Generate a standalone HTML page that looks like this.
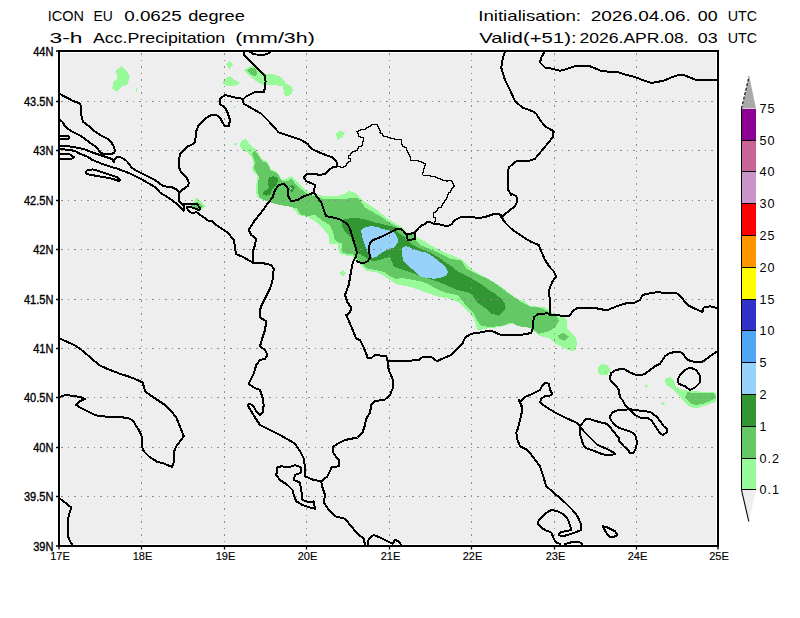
<!DOCTYPE html>
<html><head><meta charset="utf-8"><title>ICON EU 0.0625 degree - 3-h Acc.Precipitation</title>
<style>
html,body{margin:0;padding:0;background:#fff;}
body{width:800px;height:618px;overflow:hidden;}
svg{display:block;}
text{font-family:"Liberation Sans",Arial,sans-serif;fill:#000;}
</style></head><body>
<svg width="800" height="618" viewBox="0 0 800 618" shape-rendering="auto">
<defs><clipPath id="mc"><rect x="61" y="53" width="655" height="491"/></clipPath></defs>

<rect x="61" y="53" width="655" height="491" fill="#eeeeee"/>
<g clip-path="url(#mc)" shape-rendering="crispEdges">
<polygon points="242,140 245,139 248,142 251,146 256,149 260,156 263,160 267,161 269.6,166 271,170 276,171 279,175 282.4,180 285,178.75 291.25,176.25 296.25,181.25 302.5,187.5 308.75,192.5 317.5,195 327.5,196.25 336.25,196.25 343.75,194.4 348.75,191.25 353.75,191.9 357.5,195 362.5,200 367.5,203.75 371.25,206.25 377,210 383,215 390,220 400,226 410,235 418,238 424,241 430,245 438,249 446,253 454,256 462,260 470,268 472.25,270 482.75,276 491.5,280.5 500.25,285.75 509,292.75 517.75,298.9 524.75,301.5 530,305.9 538.75,306.75 545.75,307.6 551,312 558,314.6 565,317.25 567.6,322.5 566.75,327.75 570.25,332 575.5,337.4 577.25,343.5 575.5,349.6 572,351.4 565,348.75 558,345.25 552.75,341.75 549.25,338.25 538.75,335.6 535.25,332 530,327.75 521.25,326.9 512.5,323.4 503.75,326 495,327.75 486.25,328.6 477.5,330.4 475.75,324.25 474,319 468.75,312 463.5,306.75 460,303 450,299 440,297 430,294 422,291 410,287 400,285 396,284 390,280 384,276 376,272 366,271 362,267 358,261 354,259 353,256 346,255.5 340,254 338.5,250 338,244 333,244.5 329,243 329,236.25 321.25,226.25 315,221.25 308.75,217.5 298.75,215 292.5,207.5 280,203.75 276,202 270,201 263,200 258,198 256,192 256.4,184 257,178 258,175.6 254,172.4 251.6,169 253.6,164.4 252,158 248,152.4 243.6,151 241,149 240,145 241,141" fill="#98fa98"/>
<polygon points="252,153 255,150 258,155 262,161 267,163 270,168 271,171 276,172.5 279,176 282,181 287.5,181.25 291.25,178.75 297.5,186.25 305,192.5 312.5,195.6 322.5,198.75 333.75,199.4 345,198.75 352.5,198.1 357.5,197.5 361.25,202.5 365,207.5 371.25,211.25 380,216 390,223 400,228 416,240 420,245 425,246.9 432.5,250 442.5,255 450,258.75 461.25,260.6 463.1,263.1 466.25,268.75 471.25,271.25 480,275.6 487.5,278.75 493.75,282.5 500,286.9 507.5,292.5 515,298.1 521.25,302 530,306.75 540.5,307.6 549.25,312 556.25,315.5 558.9,320.75 556.25,326 549.25,331.25 538.75,333.9 535.25,331.25 530,327.75 517.75,326 510.75,322.5 502,326 489.75,326.9 481,326 477.5,320.75 474,313.75 467,306.75 460,298 457.5,295 445,292.5 436.25,288.75 427.5,283.75 420,281.25 414,280 402,278 396,279 390,276 384,272 376,270 368,268.5 364,266 358,260 353,254.5 343,253 342,250 342,243.5 337,242 334,238 333.75,235 332.5,231.25 330,225 321.25,220 315,214.4 308.75,216.25 300,214.4 297.5,208.75 287.5,206.25 280,205 272,203 266,201 260,198 258,192 258,184 259,177 256,172 254,168 255,162 253,157" fill="#64c864"/>
<polygon points="268.75,177.5 272.5,176.25 276.9,176.9 278.1,180 276.9,185 274.4,187.5 271.9,190 270,195 266.25,195.6 263.1,194.4 263.75,191.25 267.5,189.4 268.75,187.5 268.1,182.5" fill="#329632"/>
<polygon points="289.4,187.5 291.25,184.4 295,187.5 291.9,192.5 288.75,189.4" fill="#329632"/>
<polygon points="341.25,220 347.5,218.75 355,217.5 367.5,220 375,222.5 382,224 390,226 396,228 397,231.5 400,234 404,236.5 406.5,240 410,242 412.5,245 420,248.75 430,252.5 438.75,257.5 445,261.9 451.25,266.25 457.5,271.25 463.75,274.4 470,277.5 476.25,281.25 482.5,285 488.75,290 495,293.75 501.25,298.75 505,303.75 505.6,307.5 503.75,311.25 498.5,315.5 491.5,313.75 484.5,307.6 477.5,302.5 472.5,295 467.5,292.5 457.5,290 448.75,286.25 441.25,283.1 432.5,280 425,277.5 420,276.25 410,272 400,269 394,267 392,262 390,257 385,258 380,260 374,261 368,260 365,257 360,254 357,254 355,249 353,243 351,238 348,235 345,232 342,226" fill="#329632"/>
<polygon points="361,230 365,227.5 371,226 377.5,227 382.5,229 387.5,230 391,231 395,233 397.5,237.5 397.5,242.5 395,247 390,249 385,251 380,254 376,257 372,258 368,253 364,243 362,236" fill="#96d2fa"/>
<polygon points="402,248 406,246 416,250 420,251.25 426.25,252.5 432.5,256.25 438.75,261.25 445,266.25 448.1,272.5 446.25,275.6 441.25,277.5 435,278.75 427.5,278.1 420,276.25 416,272 408,266 403,260 402,254" fill="#96d2fa"/>
<polygon points="290,186.5 292,188 290.5,189.5" fill="#96d2fa"/>
<polygon points="406.5,234.5 406.75,238 408,240 411,240.25 412.5,239 415,239 415.25,236 414.5,233" fill="#64c864"/>
<polygon points="121.5,65.9 128,72.5 129.8,76.8 128.75,80.5 127.7,84.1 124.7,85.9 121.8,86.3 116.4,91.75 112.4,88.5 113.1,82.3 116.7,79.4 116.4,70.3 118.2,68.8" fill="#98fa98"/>
<polygon points="136,88 137,88 137,92 136,92" fill="#98fa98"/>
<polygon points="229.4,61.25 233.1,64.75 229.4,68.75 226,64.4" fill="#98fa98"/>
<polygon points="223.1,81.25 226.25,78.1 230,76.25 235,80 240,82.5 237.5,85 230,86.25 223.75,85" fill="#98fa98"/>
<polygon points="244.4,70 250,66.25 255,65.6 258.75,68.75 263.75,72.5 266.25,73.75 273.75,74.4 280,76.25 283.75,80 286.25,83.75 291.25,86.25 293.1,90 291.25,94.4 286.9,96.25 284.4,95 283.75,91.25 282.5,86.25 275,85 266.25,85 261.25,84.4 256.25,81.25 251.25,77.5 246.9,73.75 244.4,70.6" fill="#98fa98"/>
<polygon points="246.9,70 251.9,67.5 255,68.1 257.5,72.5 256.25,75.6 253.75,76.25 250,73.75" fill="#64c864"/>
<polygon points="233.5,106.5 234.5,105.5 235.5,106.5 234.5,108" fill="#98fa98"/>
<polygon points="234,143 237,143 237,145 234,145" fill="#98fa98"/>
<polygon points="336,133.75 340,130.5 344.5,132.5 342.5,137.5 337.5,139.5" fill="#98fa98"/>
<polygon points="342.5,269.5 346,273.5 343,276.5 339.5,273.5" fill="#98fa98"/>
<polygon points="193.5,202 197,197.5 206,206.25 200,211 193,210 190,205.5" fill="#98fa98"/>
<polygon points="197,201.5 203,206.25 200,210 193,208.5 191,205.75" fill="#64c864"/>
<polygon points="558,335.6 563.25,333 568.5,336.5 565,340.9 559.75,339.1" fill="#64c864"/>
<polygon points="597.5,367.5 601.25,363.75 607.5,365 610.5,370 607.5,375 601.25,375.5 598,372.5" fill="#98fa98"/>
<polygon points="604,371.5 606,371.5 605,373.5" fill="#64c864"/>
<polygon points="664.5,379 670.5,376.75 674.2,380.5 675,385.75 681,389.5 690,391 705,391.75 714,392.5 717,394 717,401.5 708,404.5 699,407.5 693,408.2 688.5,406 684,401.5 679.5,396.2 673.5,389.5 667.5,385.75 664.5,382" fill="#98fa98"/>
<polygon points="687,391.75 693,393.2 705,392.5 714,393.2 716.2,397.7 711,400.7 703.5,403.7 696,405.2 690,403 686.2,398.5 686.2,394.7" fill="#64c864"/>
<polygon points="644,384.5 648,385 646,388.5" fill="#98fa98"/>
<polygon points="661,403.5 663,401.5 665,403.5 663,405.5" fill="#98fa98"/>
</g>
<path d="M141.5 53V544 M224.5 53V544 M306.5 53V544 M389.5 53V544 M471.5 53V544 M554.5 53V544 M636.5 53V544 M61 101.5H716 M61 150.5H716 M61 200.5H716 M61 249.5H716 M61 299.5H716 M61 348.5H716 M61 397.5H716 M61 447.5H716 M61 496.5H716" stroke="#8c8c8c" stroke-width="1" stroke-dasharray="1.6 4.9" fill="none" shape-rendering="crispEdges"/>
<g fill="none" stroke="#000" stroke-linejoin="round" stroke-linecap="round" clip-path="url(#mc2)" shape-rendering="crispEdges">
<polyline points="60,94 67.5,98.1 73.75,101.25 79.4,103.1 80.6,105 80.6,108.75 81.25,115 83.1,121.9 87.5,125 93.75,130.6 100,135 107.5,138.75 110.6,141.25 113.75,146.25 115,151.25 113.75,153.1 110,154.4 105,154.4 101.25,153.1 98.75,151.25 98.1,148.75 95,146.25 88.75,141.9 81.25,136.25 73.75,132.5 68.75,129.4 65,126.25 63.1,122.5 60,120" stroke-width="2"/>
<polyline points="60,135.5 68,135.8 69.5,137 68.5,139 60,139" stroke-width="2"/>
<polyline points="60,146 70,146.5 76,147.5 81,148.5 85,149.5 91,152 97,154 103,156 109,158 113,159.5 113.75,162.5 115,158.75 117.5,156.9 121.25,157.5 126.25,160.6 130,165 131.25,167.5 136.25,170.6 142.5,173.75 148.75,176.9 155,180 160,183.75 163.75,186.25 168.75,186.9 172.5,187.5 176.25,189.4 179.4,192.5" stroke-width="2"/>
<polyline points="60,149 70,150 75,151 80,153.75 88,157 92.5,160 105,165 117.5,168.75 130,173.5 141,179 155,187 160,192.5 165,195.6 170,198.75 175,202.5 178.75,205.6 183.75,210.6" stroke-width="2"/>
<polyline points="60,154 70,154.5 74,157 72,158.5 60,159" stroke-width="2"/>
<polyline points="85.6,171.9 87.5,170 92.5,169.4 97.5,170.6 105,173.1 112.5,175.6 117.5,177.5 120,180 119.4,181.25 116.25,180 110,178.1 102.5,176.9 95,175.6 88.75,174.4 85.6,173.1 85.6,171.9" stroke-width="2"/>
<polyline points="179.4,192.5 179,195 179,201 180.25,202.5 182.5,204 183.75,206 184,210" stroke-width="2"/>
<polyline points="179.4,192.5 181.9,190 185,188.1 188.1,185.6 188.75,182.5 186.9,178.1 183.75,175 180.6,171.25 178.75,166.25 179.4,157.5 180.6,153.1 183.75,150 185,148.75 187.5,146.25 191.25,145 195,142.5 196.25,131.25 198.75,125 205,118.75 211.25,115 216.25,115 220,117.5 222.5,122.5 225,126.25 228.75,126.25 230,120 227.5,112.5 225,107.5 219.5,103.75 220,98.75 225,95 235,97.5 242.5,98.75" stroke-width="2"/>
<polyline points="243.75,98.75 246.25,96.25 250,94.4 255,91.9 258.75,91.5 263.75,92.5 265,87.5 265.6,81.25 265,76.25 262.5,73.1 257.5,68.1 252.5,63.1 247.5,58.1 243.75,55 243.75,51" stroke-width="2"/>
<polyline points="242.5,98.75 243.75,103.75 252.5,108.75 261.25,113.75 268.75,121.25 278.75,132.5 290,136.25 301.25,140 307.5,143.75 311.25,148.75 322.5,153.75 332.5,157.5 336.25,161.25 337.5,166.25 332.5,167.5 328.75,170 325,173.75 320,175 313.75,173.75 307.5,173.75 303.75,177.5 306.25,181.25 312.5,183.75 315,185 313.75,192.5" stroke-width="2"/>
<polyline points="313.75,192.5 311.25,193.75 303.75,196.25 297.5,200 291.25,201.25 287.5,195 287.5,187.5 283.75,183.75 278.75,185 275,190 272.5,197.5 267.5,203.75 261.25,212.5 255,220 248.75,230 251.25,235 256.25,238.75 255,245 252.5,252.5 252.5,262.5" stroke-width="2"/>
<polyline points="313.75,192.5 317.5,197.5 321.25,202.5 323.75,210 326.25,216.25 330,216.9 336.25,218.1 342.5,220.6 347.5,224.4 350,228.75 351.9,235 353.75,241.25 355.6,247.5 356.9,252.5 355.6,257.5 353.75,260 352.5,263.75 351.25,270 350,277.5 348.75,285 345,295 347.5,302.5 351.25,307.5" stroke-width="2"/>
<polyline points="182.5,204 183.5,203.75 197,203.75 199,206.5 200,208.5 199.25,209.75 197.5,209.5 195,208.5 192,207.5 189,206.75 187,207.25 187.5,209 189,211 191,212.5 193.5,213 196,212 198,213 201,215.5 204,217.5 207,220 209,221 212,221 215,224 220,227.5 227.5,232.5 234,240 235,247.5 236,254 244,257.5 252.5,262.5" stroke-width="2"/>
<polyline points="252.5,262.5 260,262.5 271.25,265 273.75,268.75 272.5,280 271.25,285 268.75,291.25 265,298.75 261.25,306.25 260,310" stroke-width="2"/>
<polyline points="356.9,261.25 360,262.5 365,262.5 367.5,261.25 370,258.1 369.4,252.5 369.4,245 371.25,241.25 376.25,238.75 382.5,236.25 388.75,233.1 393.75,230.6 397,228.5 400.5,228.5 403.5,231 406.5,234.5 408,234 411.5,233.5 414.5,233 416,231 418.5,228 421.5,225.5 425,224 426.5,222 428,221.5 430,222.5" stroke-width="2"/>
<polyline points="406.5,234.5 406.75,238 408,240 411,240.25 412.5,239 415,239 415.25,236 414.5,233" stroke-width="2"/>
<polyline points="505,51 502.5,60 501.25,67.5 505,80 510,90 515,101.25 522.5,107.5 532.5,111.25 536.25,113.75 540,120 545,126.25 553.75,131.25 552.5,137.5 547.5,143.75 541.25,151.25 535,158.75 527.5,161.25 516.25,161.25 508.75,167.5 507.5,175 507.5,188.75 511.25,195" stroke-width="2"/>
<polyline points="545,51 541.25,57.5 540,62.5 545,67.5 552.5,68.75 560,70.75 567.5,68.75 575,66.25 590,66.25 596.25,68.75 601.25,71.25 617.5,72 625,74.5 635,77 642.5,80 651.25,83 663.75,80.75 671.25,77.5 678.75,75 685,75.5 695,79.5 718,79.5" stroke-width="2"/>
<polyline points="430,221.9 433.75,223.75 440,224.5 447.5,226.25 451.25,224.5 455,220 460,217.5 470,217 480,218 487.5,216.25 492.5,214.5 498.75,213.75 502.5,216.25 510,210 515,206.25 517.5,201.25 516.25,196.25 511.25,193.75 507.5,190 507.5,180 507.5,175" stroke-width="2"/>
<polyline points="500,215 505,222.5 511.25,228.75 520,235 530,241.25 538.75,245 541.25,251.25 545,260 550,267.5 553.75,271.25 556.25,276.25 552.5,281.25 550,287.5 548.75,291.25 550,300 550,315" stroke-width="2"/>
<polyline points="375,355 380,355.5 386.25,356.25 387.5,361.25 400,361.25 412.5,360.5 418.75,360 422.5,357 431.25,357 437,361.25 445,357.5 451.25,355 457.5,348.75 462.5,343.75 465,337.5 471.25,333.75 480,332.5 488.75,330.75 492.5,331.25 500,334.5 510,335.5 520,335 531.25,333 532.5,328.75 533.75,317.5 537.5,314.25 547.5,313.25 550,315 560,315.5 570,315.5 572.5,311.25 577.5,308 585,307.5 595,308 602.5,309.5 606.25,310.5 612.5,308 620,305 627.5,303 635,302.5 640,300 642.5,295 647.5,293.75 652.5,293 657.5,292 665,293 673.75,292.5 677.5,293.75 682.5,298.75 687.5,305 695,308.75 702.5,312 703.75,307.5 710,306.25 715,307.5 718,308.75" stroke-width="2"/>
<polyline points="351.25,307.5 350,312.5 346.25,315 350,323.75 353.75,332.5 356.25,338.75 360,340 363.75,347.5 366.25,353.75 367.5,357.5 371.25,358 375,355" stroke-width="2"/>
<polyline points="387.5,361.25 388.75,370 392.5,378.75 393,387.5 390,395 385,399.5 375,401.25 371.25,405 370,412.5 366.25,418.75 365,425 362.5,432.5 357.5,437.5 345,440 337.5,443.75 332.5,447.5 333.75,453.75 338.75,460 338.75,466.25 331.25,467.5 330,471.25 327.5,476.25 321.25,481.25" stroke-width="2"/>
<polyline points="260,310 260,317.5 266.25,321.25 265,330 262.5,337.5 260,346.25 265,350 267.5,355 265,358.75 260,360 256.25,365 253.75,373.75 250,381.25 248.75,383.75 253.75,387.5 260,390 262.5,397.5 263.75,405 262.5,412.5 260,415 256.25,411.25 253.75,406.25 250,403.75 247.5,405 251.25,411.25 255,417.5 260,425 270,430 280,435 288.75,440 295,443.75 300,451.25 303.75,458.75 305,467.5 305,476.25 313.75,480 321.25,481.25" stroke-width="2"/>
<polyline points="321.25,481.25 322.5,487.5 325,495 323.75,502.5 328.75,510 335,516.25 345,518.75 351.25,526.25 357.5,533.75 363.75,538.75 365,545" stroke-width="2"/>
<polyline points="367.5,545 368.75,538.75 373.75,535 380,537.5 387.5,541.25 392.5,543.75 395,540 398.75,541.25 401.25,545" stroke-width="2"/>
<polyline points="277.5,467.5 281.25,466.25 288.75,467.5 295,465 301.25,467.5 301.25,472.5 295,475 293.75,480 300,482.5 301.25,490 302.5,500 310,502.5 313.75,501.25 315,508.75 310,507.5 302.5,505 296.25,501.25 293.75,495 292.5,490 287.5,485 280,480 276.25,475 277.5,467.5" stroke-width="2"/>
<polyline points="60,338.75 67.5,342 75,345.5 80,348.75 87.5,355 93.75,360.5 100,365.5 110,370 120,373.75 130,377 137.5,380 142.5,382.5 143.75,386.25 145,391.25 150,395 157.5,400 165,405 171.25,411.25 176.25,417.5 178.75,423.75 181.25,430 183.75,436.25 180,441.25 176.25,446.25 173.75,452.5 173.75,462.5 172,467 167.5,465 162.5,463 157.5,462 148.75,456.25 143.75,451.25 142,446.25 142.5,440 141.25,435 138.75,430 136.25,426.25 133.75,421.25 128.75,418.25 120,417 110,416.75 100,416.25 95,415 87.5,411.25 80,407.5 76.25,405 80,401.25 85,398.75 80,397 70,395.5 65,395 60,397" stroke-width="2"/>
<polyline points="60,498.75 65,502.5 71.25,507.5 68.75,515 67.5,525 67.5,535 70,541.25 72.5,545" stroke-width="2"/>
<polyline points="518.75,400 522.5,407.5 521.25,415 518.75,425 516.25,432.5 517.5,440 520,446.25 527.5,450 532.5,456.25 540,466.25 542.5,473.75 546.25,486.25 555,493.75 565,502.5 572.5,510 577.5,516.25 581.25,525 581.25,530 575,532.5 567.5,535 562.5,536.25 558.75,535 560,532.5 565,531.25 571.25,530 570,525 567.5,518.75 562.5,513.75 557.5,511.25 551.25,510 545,513.75 538.75,520 537.5,523.75 541.25,527.5 545,530 551.25,532.5 553.75,538.75 556.25,542.5 560,544" stroke-width="2"/>
<polyline points="565,544 572.5,542 580,542.5 582.5,544" stroke-width="2"/>
<polyline points="517.5,430 520,420 522.5,410 520,402.5 525,397 532.5,393.75 540,390 542.5,385 546.25,382.5 549,384 550,390 552.5,393.75 550,395.5 545,396.25 541.25,398.75 540,402.5 545,406.25 555,412.5 567.5,418.75 575,421.9 578.75,424.4 580,426.9" stroke-width="2"/>
<polyline points="580,426.9 579.75,431.25 580.6,436.25 582.5,442.5 584.4,446.9 587.5,448.75 595,451.25 602.5,454.4 608.75,454.75 614.4,454.4 615,453.5 610,450.6 605,448.1 597.5,445 593.75,441.25 588.75,436.25 583.75,431.25 580,426.9" stroke-width="2"/>
<polyline points="580,426.9 582.5,423.1 586.25,418.75 588.75,418.75 598.75,421.9 607.5,424 611.25,428.75 616.25,435 618.75,437.5 619.4,441.25 623.75,446.25 628.1,450 630,453.1 633.75,452.5 636.25,447.5 636.9,441.25 635,434.4 631.25,431.9 622.5,429 619.4,428.1 615,425 611.25,420.6 609.75,416.9 612.5,412.5 616.25,410.6 622.5,409.75 628.75,409.4 631.25,409.4 640,410.6 650,411.9 656.25,416.25 661.25,422.5 663.75,426.25 667.5,429.4 666.9,432.5 662.5,435 660,433.1 656.25,427.5 651.25,420 647.5,418.1 640,417.5 635,415 631.25,411.25 628.75,408.75 625,405 622.5,400" stroke-width="2"/>
<polyline points="718,351 710,356.25 705,360 701.25,362.5 695,362 687.5,360 683.75,355 681.25,352.5 675,352 670,353 665,356.25 662.5,360 660,363.75 655,366.25 650,370 645,373.75 640,375.5 635,374.5 630,372.5 625,369.5 621.25,368.75 615,370.5 611.25,373 609.5,378.75 612.5,382.5 616.25,386.25 618.75,390 620,397.5 622.5,400" stroke-width="2"/>
<polyline points="680,375 685,370 690,367.5 696.25,370 699.5,375 700,382.5 695,387.5 690,390 685,386.25 678.75,383.75 677.5,380 680,375" stroke-width="2"/>
<polyline points="602.5,526.25 607.5,527.5 615,531.25 617.5,535 612.5,537.5 608.75,536.25 606.25,532.5 602.5,526.25" stroke-width="2"/>
<polyline points="248.75,51 252.5,53.5 256.25,54.5 261.25,54.75 266.25,54.4 268.75,53.1 271.25,51" stroke-width="2"/>
<polyline points="337.5,166.25 339.17,166.25 339.17,166.67 340.83,166.67 340.83,167.08 342.5,167.08 342.5,167.5 343.75,167.5 343.75,166.25 345,166.25 345,165 346.25,165 346.25,163.75 347.5,163.75 347.5,162.5 348.75,162.5 348.75,161.25 350,161.25 350,160 350,158.12 348.75,158.12 348.75,156.25 347.5,156.25 348.75,156.25 348.75,155 350,155 350,153.75 351.25,153.75 351.25,152.5 352.81,152.5 352.81,151.88 354.38,151.88 354.38,151.25 355.94,151.25 355.94,150.62 357.5,150.62 357.5,150 357.5,148.12 358.75,148.12 358.75,146.25 360,146.25 361.25,146.25 361.25,145 362.5,145 362.5,143.75 362.5,141.25 363.75,141.25 363.75,139.38 363.12,139.38 363.12,137.5 362.5,137.5 360.62,137.5 360.62,136.25 358.75,136.25 358.75,135 358.75,133.12 357.5,133.12 357.5,131.25 356.25,131.25 358.75,131.25 358.75,130 360.83,130 360.83,129.58 362.92,129.58 362.92,129.17 365,129.17 365,128.75 366.67,128.75 366.67,127.5 368.33,127.5 368.33,126.25 370,126.25 370,125 371.67,125 371.67,124.83 373.33,124.83 373.33,124.67 375,124.67 375,124.5 377.5,124.5 377.5,125 377.5,126.67 378.33,126.67 378.33,128.33 379.17,128.33 379.17,130 380,130 380,132.5 378.75,132.5 380.42,132.5 380.42,133.75 382.08,133.75 382.08,135 383.75,135 383.75,136.25 385.5,136.25 385.5,136.75 387.25,136.75 387.25,137.25 389,137.25 389,137.75 390.75,137.75 390.75,138.25 392.5,138.25 392.5,138.75 394.58,138.75 394.58,139 396.67,139 396.67,139.25 398.75,139.25 398.75,139.5 401.25,139.5 401.25,141.25 401.25,142.92 401.67,142.92 401.67,144.58 402.08,144.58 402.08,146.25 402.5,146.25 404.38,146.25 404.38,147.5 406.25,147.5 406.25,148.75 406.25,150.62 407.5,150.62 407.5,152.5 408.75,152.5 408.75,154.38 409.38,154.38 409.38,156.25 410,156.25 410,158.12 410.62,158.12 410.62,160 411.25,160 413.12,160 413.12,160.31 415,160.31 415,160.62 416.88,160.62 416.88,160.94 418.75,160.94 418.75,161.25 420.31,161.25 420.31,161.88 421.88,161.88 421.88,162.5 423.44,162.5 423.44,163.12 425,163.12 425,163.75 425,165.42 424.58,165.42 424.58,167.08 424.17,167.08 424.17,168.75 423.75,168.75 423.75,170.83 423.33,170.83 423.33,172.92 422.92,172.92 422.92,175 422.5,175 424.17,175 424.17,175.21 425.83,175.21 425.83,175.42 427.5,175.42 427.5,175.62 429.17,175.62 429.17,175.83 430.83,175.83 430.83,176.04 432.5,176.04 432.5,176.25 434.17,176.25 434.17,176.88 435.83,176.88 435.83,177.5 437.5,177.5 437.5,178.12 439.17,178.12 439.17,178.75 440.83,178.75 440.83,179.38 442.5,179.38 442.5,180 444.38,180 444.38,180.62 446.25,180.62 446.25,181.25 447.92,181.25 447.92,180.83 449.58,180.83 449.58,180.42 451.25,180.42 451.25,180 451.25,181.67 452.33,181.67 452.33,183.33 453.42,183.33 453.42,185 454.5,185 454.5,186.25 453.42,186.25 453.42,187.5 452.33,187.5 452.33,188.75 451.25,188.75 451.25,190.62 450,190.62 450,192.5 448.75,192.5 448.75,194.17 447.92,194.17 447.92,195.83 447.08,195.83 447.08,197.5 446.25,197.5 446.25,199.06 445.31,199.06 445.31,200.62 444.38,200.62 444.38,202.19 443.44,202.19 443.44,203.75 442.5,203.75 442.5,205.62 441.25,205.62 441.25,207.5 440,207.5 438.75,207.5 438.75,208.75 437.5,208.75 437.5,210 436.25,210 436.25,211.25 435,211.25 435,212.5 433.75,212.5 433.75,213.75 433.75,216.25 432.5,216.25 433.75,216.25 433.75,217.5 435,217.5 435,218.75 435,221.25 436.25,221.25 434,221.25 434,223" stroke-width="1" stroke-linejoin="miter"/>
</g>
<defs><clipPath id="mc2"><rect x="59" y="51" width="659" height="495"/></clipPath></defs>
<rect x="59" y="51" width="659" height="495" fill="none" stroke="#000" stroke-width="2"/>
<path d="M56 51H59 M56 101.5H59 M56 150.5H59 M56 200.5H59 M56 249.5H59 M56 299.5H59 M56 348.5H59 M56 397.5H59 M56 447.5H59 M56 496.5H59 M56 546H59 M59 546V549.5 M141.5 546V549.5 M224.5 546V549.5 M306.5 546V549.5 M389.5 546V549.5 M471.5 546V549.5 M554.5 546V549.5 M636.5 546V549.5 M718 546V549.5" stroke="#000" stroke-width="1.3" fill="none"/>
<text x="53.4" y="56.0" font-size="12" text-anchor="end" stroke="#000" stroke-width="0.35" transform="translate(53.4 0) scale(0.92 1) translate(-53.4 0)">44N</text>
<text x="53.4" y="106.5" font-size="12" text-anchor="end" stroke="#000" stroke-width="0.35" transform="translate(53.4 0) scale(0.92 1) translate(-53.4 0)">43.5N</text>
<text x="53.4" y="155.5" font-size="12" text-anchor="end" stroke="#000" stroke-width="0.35" transform="translate(53.4 0) scale(0.92 1) translate(-53.4 0)">43N</text>
<text x="53.4" y="205.5" font-size="12" text-anchor="end" stroke="#000" stroke-width="0.35" transform="translate(53.4 0) scale(0.92 1) translate(-53.4 0)">42.5N</text>
<text x="53.4" y="254.5" font-size="12" text-anchor="end" stroke="#000" stroke-width="0.35" transform="translate(53.4 0) scale(0.92 1) translate(-53.4 0)">42N</text>
<text x="53.4" y="304.5" font-size="12" text-anchor="end" stroke="#000" stroke-width="0.35" transform="translate(53.4 0) scale(0.92 1) translate(-53.4 0)">41.5N</text>
<text x="53.4" y="353.5" font-size="12" text-anchor="end" stroke="#000" stroke-width="0.35" transform="translate(53.4 0) scale(0.92 1) translate(-53.4 0)">41N</text>
<text x="53.4" y="402.5" font-size="12" text-anchor="end" stroke="#000" stroke-width="0.35" transform="translate(53.4 0) scale(0.92 1) translate(-53.4 0)">40.5N</text>
<text x="53.4" y="452.5" font-size="12" text-anchor="end" stroke="#000" stroke-width="0.35" transform="translate(53.4 0) scale(0.92 1) translate(-53.4 0)">40N</text>
<text x="53.4" y="501.5" font-size="12" text-anchor="end" stroke="#000" stroke-width="0.35" transform="translate(53.4 0) scale(0.92 1) translate(-53.4 0)">39.5N</text>
<text x="53.4" y="551.0" font-size="12" text-anchor="end" stroke="#000" stroke-width="0.35" transform="translate(53.4 0) scale(0.92 1) translate(-53.4 0)">39N</text>
<text x="60.0" y="560.4" font-size="11" text-anchor="middle" stroke="#000" stroke-width="0.15">17E</text>
<text x="142.5" y="560.4" font-size="11" text-anchor="middle" stroke="#000" stroke-width="0.15">18E</text>
<text x="225.5" y="560.4" font-size="11" text-anchor="middle" stroke="#000" stroke-width="0.15">19E</text>
<text x="307.5" y="560.4" font-size="11" text-anchor="middle" stroke="#000" stroke-width="0.15">20E</text>
<text x="390.5" y="560.4" font-size="11" text-anchor="middle" stroke="#000" stroke-width="0.15">21E</text>
<text x="472.5" y="560.4" font-size="11" text-anchor="middle" stroke="#000" stroke-width="0.15">22E</text>
<text x="555.5" y="560.4" font-size="11" text-anchor="middle" stroke="#000" stroke-width="0.15">23E</text>
<text x="637.5" y="560.4" font-size="11" text-anchor="middle" stroke="#000" stroke-width="0.15">24E</text>
<text x="719.0" y="560.4" font-size="11" text-anchor="middle" stroke="#000" stroke-width="0.15">25E</text>
<text x="47.80" y="21" font-size="15" textLength="36.22" lengthAdjust="spacingAndGlyphs">ICON</text>
<text x="93.52" y="21" font-size="15" textLength="19.31" lengthAdjust="spacingAndGlyphs">EU</text>
<text x="124.20" y="21" font-size="15" textLength="57.60" lengthAdjust="spacingAndGlyphs">0.0625</text>
<text x="188.20" y="21" font-size="15" textLength="56.60" lengthAdjust="spacingAndGlyphs">degree</text>
<text x="49.54" y="42.6" font-size="14" textLength="32.94" lengthAdjust="spacingAndGlyphs">3-h</text>
<text x="93.00" y="42.6" font-size="14" textLength="132.20" lengthAdjust="spacingAndGlyphs">Acc.Precipitation</text>
<text x="235.18" y="42.6" font-size="14" textLength="79.63" lengthAdjust="spacingAndGlyphs">(mm/3h)</text>
<text x="478.19" y="20.8" font-size="14.4" textLength="102.83" lengthAdjust="spacingAndGlyphs">Initialisation:</text>
<text x="590.79" y="20.8" font-size="14.4" textLength="100.04" lengthAdjust="spacingAndGlyphs">2026.04.06.</text>
<text x="697.80" y="20.8" font-size="14.4" textLength="19.82" lengthAdjust="spacingAndGlyphs">00</text>
<text x="727.77" y="20.8" font-size="14.4" textLength="29.44" lengthAdjust="spacingAndGlyphs">UTC</text>
<text x="479.19" y="42.6" font-size="14.4" textLength="97.42" lengthAdjust="spacingAndGlyphs">Valid(+51):</text>
<text x="579.60" y="42.6" font-size="14.4" textLength="109.01" lengthAdjust="spacingAndGlyphs">2026.APR.08.</text>
<text x="697.80" y="42.6" font-size="14.4" textLength="19.82" lengthAdjust="spacingAndGlyphs">03</text>
<text x="727.77" y="42.6" font-size="14.4" textLength="29.44" lengthAdjust="spacingAndGlyphs">UTC</text>
<g shape-rendering="crispEdges">
<rect x="742" y="458" width="14" height="32" fill="#98fa98"/>
<rect x="742" y="426" width="14" height="33" fill="#64c864"/>
<rect x="742" y="394" width="14" height="33" fill="#329632"/>
<rect x="742" y="362" width="14" height="33" fill="#96d2fa"/>
<rect x="742" y="330" width="14" height="33" fill="#50a5f5"/>
<rect x="742" y="299" width="14" height="32" fill="#3232c8"/>
<rect x="742" y="267" width="14" height="33" fill="#ffff00"/>
<rect x="742" y="235" width="14" height="33" fill="#ff9600"/>
<rect x="742" y="203" width="14" height="33" fill="#ff0000"/>
<rect x="742" y="171" width="14" height="33" fill="#c896c8"/>
<rect x="742" y="140" width="14" height="32" fill="#c86496"/>
<rect x="742" y="108.6" width="14" height="32.400000000000006" fill="#8c0096"/>
<rect x="741" y="489" width="15" height="1" fill="#000"/>
<rect x="741" y="458" width="15" height="1" fill="#000"/>
<rect x="741" y="426" width="15" height="1" fill="#000"/>
<rect x="741" y="394" width="15" height="1" fill="#000"/>
<rect x="741" y="362" width="15" height="1" fill="#000"/>
<rect x="741" y="330" width="15" height="1" fill="#000"/>
<rect x="741" y="299" width="15" height="1" fill="#000"/>
<rect x="741" y="267" width="15" height="1" fill="#000"/>
<rect x="741" y="235" width="15" height="1" fill="#000"/>
<rect x="741" y="203" width="15" height="1" fill="#000"/>
<rect x="741" y="171" width="15" height="1" fill="#000"/>
<rect x="741" y="140" width="15" height="1" fill="#000"/>
<rect x="741" y="108" width="1" height="382" fill="#000"/>
</g>
<polygon points="742,108.6 756,108.6 749.2,76" fill="#aaaaaa"/>
<polygon points="742,490 756,490 749,521.5" fill="#eeeeee"/>
<path d="M741.5 108.5L749 76.5" stroke="#000" stroke-width="1.1" stroke-dasharray="3 1.6" fill="none"/>
<path d="M741.5 490L748.8 521.5" stroke="#000" stroke-width="1.1" fill="none"/>
<text x="759.4" y="493.8" font-size="12.6" letter-spacing="1">0.1</text>
<text x="759.4" y="462.8" font-size="12.6" letter-spacing="1">0.2</text>
<text x="759.4" y="430.8" font-size="12.6" letter-spacing="1">1</text>
<text x="759.4" y="398.8" font-size="12.6" letter-spacing="1">2</text>
<text x="759.4" y="366.8" font-size="12.6" letter-spacing="1">5</text>
<text x="759.4" y="334.8" font-size="12.6" letter-spacing="1">10</text>
<text x="759.4" y="303.8" font-size="12.6" letter-spacing="1">15</text>
<text x="759.4" y="271.8" font-size="12.6" letter-spacing="1">20</text>
<text x="759.4" y="239.8" font-size="12.6" letter-spacing="1">25</text>
<text x="759.4" y="207.8" font-size="12.6" letter-spacing="1">30</text>
<text x="759.4" y="175.8" font-size="12.6" letter-spacing="1">40</text>
<text x="759.4" y="144.8" font-size="12.6" letter-spacing="1">50</text>
<text x="759.4" y="113.3" font-size="12.6" letter-spacing="1">75</text>
</svg>
</body></html>
